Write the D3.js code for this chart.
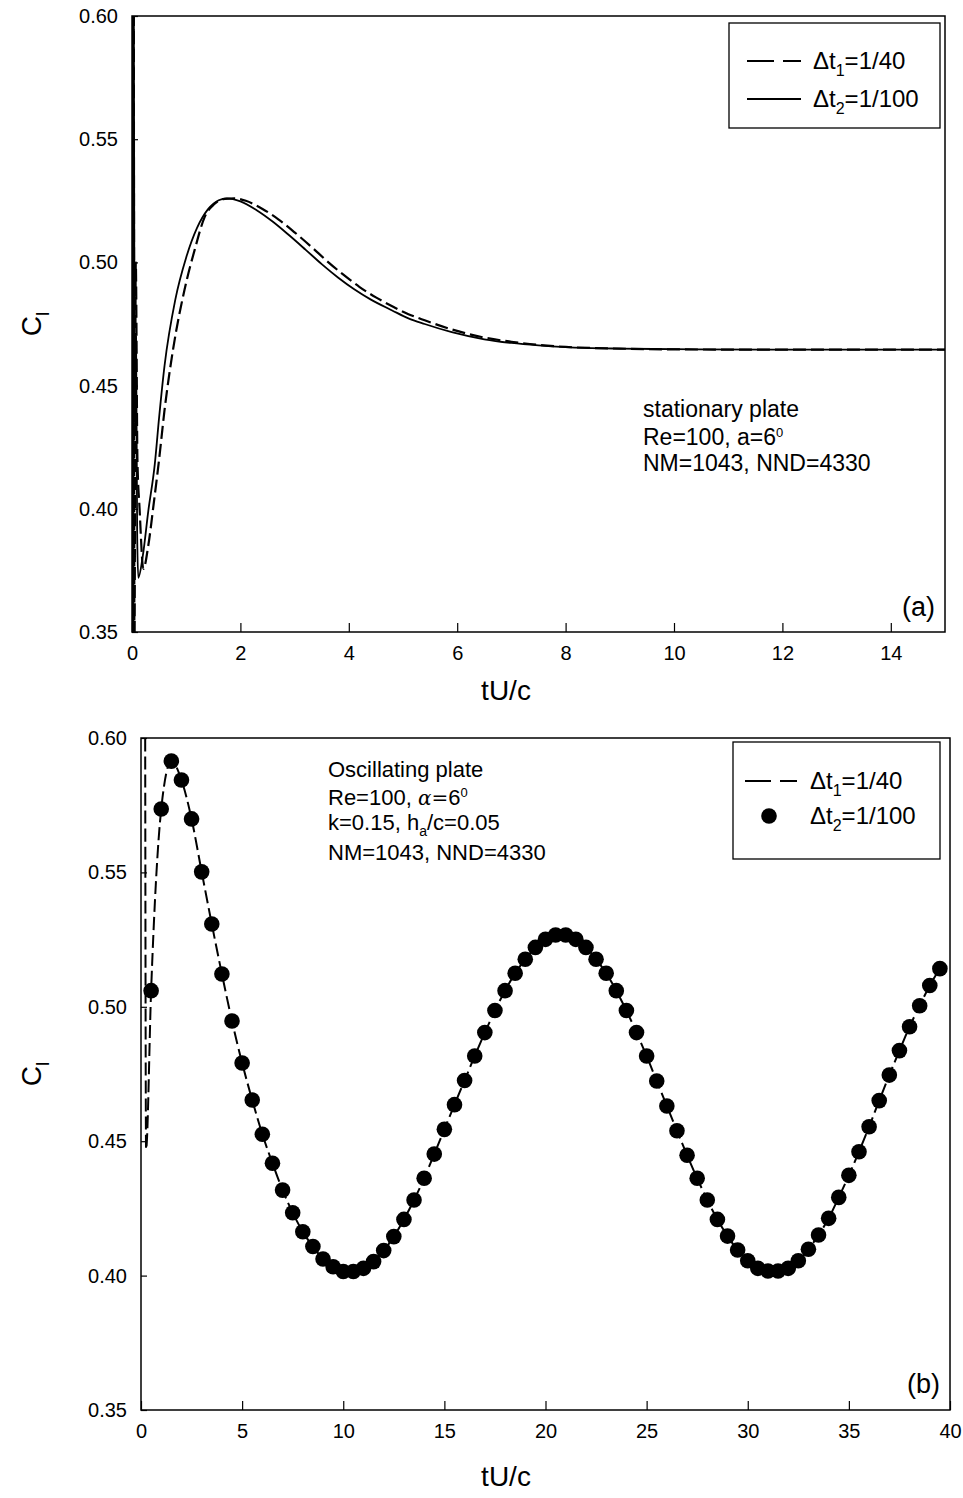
<!DOCTYPE html>
<html><head><meta charset="utf-8">
<script src="https://cdnjs.cloudflare.com/ajax/libs/d3/7.8.5/d3.min.js"></script>
<style>body{margin:0;background:#fff}svg{display:block;font-family:"Liberation Sans",Arial,sans-serif}</style>
</head><body><svg id="c" width="963" height="1498"></svg>
<script>
// ---------- Panel (a): stationary plate ----------
const aXTicks = [0, 2, 4, 6, 8, 10, 12, 14];
const aYTicks = [0.35, 0.40, 0.45, 0.50, 0.55, 0.60];
// dt2 = 1/100 (solid)
const statT2  = [0.0, 0.008, 0.016, 0.024, 0.032, 0.045, 0.06, 0.075, 0.095, 0.116, 0.2, 0.3, 0.42, 0.5, 0.6, 0.8, 1.0, 1.2, 1.4, 1.6, 1.75, 2.0, 2.3, 2.6, 2.9, 3.2, 3.5, 3.8, 4.1, 4.4, 4.8, 5.1, 5.4, 5.9, 6.5, 7.0, 7.5, 8.0, 9.0, 10.0, 12.0, 15.0];
const statCl2 = [0.65, 0.34, 0.64, 0.34, 0.62, 0.47, 0.43, 0.47, 0.39, 0.372, 0.381, 0.399, 0.418, 0.437, 0.458, 0.485, 0.502, 0.514, 0.5215, 0.5252, 0.526, 0.5248, 0.5212, 0.5165, 0.511, 0.5052, 0.4993, 0.4939, 0.4891, 0.485, 0.4805, 0.4773, 0.475, 0.4717, 0.4688, 0.4673, 0.4663, 0.4656, 0.465, 0.4648, 0.4646, 0.4646];
// dt1 = 1/40 (dashed)
const statT1  = [0.0, 0.01, 0.02, 0.03, 0.045, 0.07, 0.1, 0.14, 0.21, 0.3, 0.4, 0.5, 0.6, 0.76, 0.97, 1.16, 1.34, 1.52, 1.71, 1.89, 2.1, 2.4, 2.7, 3.0, 3.3, 3.6, 3.9, 4.2, 4.5, 4.8, 5.1, 5.4, 5.9, 6.5, 7.0, 7.5, 8.0, 9.0, 10.0, 12.0, 15.0];
const statCl1 = [0.34, 0.65, 0.34, 0.65, 0.34, 0.50, 0.42, 0.40, 0.3756, 0.385, 0.402, 0.42, 0.44, 0.465, 0.489, 0.5054, 0.5184, 0.5237, 0.5258, 0.526, 0.525, 0.5218, 0.5175, 0.5122, 0.5065, 0.5005, 0.495, 0.490, 0.4858, 0.4822, 0.479, 0.4765, 0.4728, 0.4695, 0.4678, 0.4665, 0.4657, 0.465, 0.4647, 0.4646, 0.4646];

// ---------- Panel (b): oscillating plate ----------
const bXTicks = [0, 5, 10, 15, 20, 25, 30, 35, 40];
const bYTicks = [0.35, 0.40, 0.45, 0.50, 0.55, 0.60];
// dt2 = 1/100 (dots)
const oscT2 = [0.5,1,1.5,2,2.5,3,3.5,4,4.5,5,5.5,6,6.5,7,7.5,8,8.5,9,9.5,10,10.5,11,11.5,12,12.5,13,13.5,14,14.5,15,15.5,16,16.5,17,17.5,18,18.5,19,19.5,20,20.5,21,21.5,22,22.5,23,23.5,24,24.5,25,25.5,26,26.5,27,27.5,28,28.5,29,29.5,30,30.5,31,31.5,32,32.5,33,33.5,34,34.5,35,35.5,36,36.5,37,37.5,38,38.5,39,39.5];
const oscCl2 = [0.506,0.5736,0.5914,0.5844,0.5699,0.5502,0.5308,0.5122,0.4947,0.4791,0.4653,0.4526,0.4418,0.4318,0.4234,0.4163,0.4108,0.4062,0.4033,0.4015,0.4015,0.4027,0.4052,0.4093,0.4145,0.4209,0.4281,0.4362,0.4452,0.4544,0.4636,0.4726,0.4817,0.4904,0.4986,0.506,0.5125,0.5177,0.5221,0.5251,0.5267,0.5267,0.5251,0.5221,0.5177,0.5125,0.506,0.4986,0.4904,0.4817,0.4724,0.4631,0.4539,0.4448,0.4362,0.4281,0.4209,0.4147,0.4095,0.4055,0.4027,0.4017,0.4017,0.4027,0.4055,0.4098,0.4151,0.4213,0.4291,0.4373,0.4461,0.4554,0.4651,0.4746,0.4837,0.4926,0.5004,0.5079,0.5142];
// dt1 = 1/40 (dashed): start-up transient, then follows the same curve
const oscT1start  = [0.2, 0.25];
const oscCl1start = [0.64, 0.447];

const svg = d3.select("#c");
svg.append("rect").attr("width", 963).attr("height", 1498).attr("fill", "#fff");

function panel(cfg) {
  const x = d3.scaleLinear().domain(cfg.xDom).range([cfg.left, cfg.right]);
  const y = d3.scaleLinear().domain([0.35, 0.60]).range([cfg.bottom, cfg.top]);
  const g = svg.append("g");
  const clipId = "clip" + cfg.id;
  svg.append("clipPath").attr("id", clipId).append("rect")
    .attr("x", cfg.left).attr("y", cfg.top).attr("width", cfg.right - cfg.left).attr("height", cfg.bottom - cfg.top);

  const xAxis = d3.axisBottom(x).tickValues(cfg.xTicks).tickSize(-9).tickPadding(14).tickFormat(d3.format("d"));
  const gx = g.append("g").attr("transform", `translate(0,${cfg.bottom})`).call(xAxis);
  const yAxis = d3.axisLeft(y).tickValues(cfg.yTicks).tickSize(-6).tickPadding(14).tickFormat(d3.format(".2f"));
  const gy = g.append("g").attr("transform", `translate(${cfg.left},0)`).call(yAxis);
  [gx, gy].forEach(a => {
    a.select(".domain").remove();
    a.selectAll(".tick line").attr("stroke", "#000").attr("stroke-width", 1.2);
    a.selectAll(".tick text").attr("fill", "#000").attr("font-size", 20).attr("font-family", "Liberation Sans, Arial, sans-serif");
  });
  gx.selectAll(".tick text").attr("dy", "0.71em");

  const plot = g.append("g").attr("clip-path", `url(#${clipId})`);
  cfg.draw(plot, x, y);

  g.append("rect").attr("x", cfg.left).attr("y", cfg.top).attr("width", cfg.right - cfg.left).attr("height", cfg.bottom - cfg.top)
    .attr("fill", "none").attr("stroke", "#000").attr("stroke-width", 1.5);

  g.append("text").attr("x", 506).attr("y", cfg.xTitleY).attr("text-anchor", "middle").attr("font-size", 28).text("tU/c");
  const yt = g.append("text").attr("transform", `translate(41,${(cfg.top + cfg.bottom) / 2}) rotate(-90)`)
    .attr("text-anchor", "middle").attr("font-size", 28);
  yt.append("tspan").text("C");
  yt.append("tspan").attr("dy", 8).attr("font-size", 19).text("l");

  g.append("text").attr("x", cfg.right - 10).attr("y", cfg.tagY).attr("text-anchor", "end").attr("font-size", 27).text(cfg.tag);
  return { x, y, g };
}

function legendText(g, x, y, sub, rest) {
  const t = g.append("text").attr("x", x).attr("y", y).attr("font-size", 24);
  t.append("tspan").text("\u0394t");
  t.append("tspan").attr("dy", 7).attr("font-size", 16).text(sub);
  t.append("tspan").attr("dy", -7).text(rest);
}

// Panel a
const pa = panel({
  id: "a", xDom: [0, 15], left: 132, right: 945, top: 16, bottom: 632,
  xTicks: aXTicks, yTicks: aYTicks, xTitleY: 700, tag: "(a)", tagY: 616,
  draw: (p, x, y) => {
    const line = d3.line().x(d => x(d[0])).y(d => y(d[1])).curve(d3.curveMonotoneX);
    p.append("path").datum(d3.zip(statT1, statCl1)).attr("d", line)
      .attr("fill", "none").attr("stroke", "#000").attr("stroke-width", 2.2).attr("stroke-dasharray", "13,5");
    p.append("path").datum(d3.zip(statT2, statCl2)).attr("d", line)
      .attr("fill", "none").attr("stroke", "#000").attr("stroke-width", 1.8);
  }
});
{
  const g = pa.g;
  g.append("rect").attr("x", 729).attr("y", 23).attr("width", 211).attr("height", 105).attr("fill", "#fff").attr("stroke", "#000").attr("stroke-width", 1.3);
  g.append("line").attr("x1", 747).attr("x2", 801).attr("y1", 61).attr("y2", 61).attr("stroke", "#000").attr("stroke-width", 1.8).attr("stroke-dasharray", "27,9");
  g.append("line").attr("x1", 747).attr("x2", 801).attr("y1", 99).attr("y2", 99).attr("stroke", "#000").attr("stroke-width", 1.8);
  legendText(g, 813, 69, "1", "=1/40");
  legendText(g, 813, 107, "2", "=1/100");
  const ann = g.append("text").attr("font-size", 23);
  ann.append("tspan").attr("x", 643).attr("y", 417).text("stationary plate");
  ann.append("tspan").attr("x", 643).attr("y", 445).text("Re=100, a=6");
  ann.append("tspan").attr("dy", -8).attr("font-size", 13).text("0");
  ann.append("tspan").attr("x", 643).attr("y", 471).text("NM=1043, NND=4330");
}

// Panel b
const pb = panel({
  id: "b", xDom: [0, 40], left: 141, right: 950, top: 738, bottom: 1410,
  xTicks: bXTicks, yTicks: bYTicks, xTitleY: 1486, tag: "(b)", tagY: 1393,
  draw: (p, x, y) => {
    const line = d3.line().x(d => x(d[0])).y(d => y(d[1])).curve(d3.curveMonotoneX);
    const dashed = d3.zip(oscT1start, oscCl1start).concat(d3.zip(oscT2, oscCl2));
    p.append("path").datum(dashed).attr("d", line)
      .attr("fill", "none").attr("stroke", "#000").attr("stroke-width", 2).attr("stroke-dasharray", "13,5");
    p.selectAll("circle").data(d3.zip(oscT2, oscCl2)).join("circle")
      .attr("cx", d => x(d[0])).attr("cy", d => y(d[1])).attr("r", 7.8).attr("fill", "#000");
  }
});
{
  const g = pb.g;
  g.append("rect").attr("x", 733).attr("y", 742).attr("width", 207).attr("height", 117).attr("fill", "#fff").attr("stroke", "#000").attr("stroke-width", 1.3);
  g.append("line").attr("x1", 745).attr("x2", 797).attr("y1", 781).attr("y2", 781).attr("stroke", "#000").attr("stroke-width", 1.8).attr("stroke-dasharray", "26,9");
  g.append("circle").attr("cx", 769).attr("cy", 816).attr("r", 7.8).attr("fill", "#000");
  legendText(g, 810, 789, "1", "=1/40");
  legendText(g, 810, 824, "2", "=1/100");
  const ann = g.append("text").attr("font-size", 22);
  ann.append("tspan").attr("x", 328).attr("y", 777).text("Oscillating plate");
  ann.append("tspan").attr("x", 328).attr("y", 805).text("Re=100, ");
  ann.append("tspan").attr("font-family", "DejaVu Serif, serif").attr("font-style", "italic").attr("font-size", 20).text("\u03b1=");
  ann.append("tspan").text("6");
  ann.append("tspan").attr("dy", -8).attr("font-size", 13).text("0");
  ann.append("tspan").attr("x", 328).attr("y", 830).text("k=0.15, h");
  ann.append("tspan").attr("dy", 6).attr("font-size", 14).text("a");
  ann.append("tspan").attr("dy", -6).text("/c=0.05");
  ann.append("tspan").attr("x", 328).attr("y", 860).text("NM=1043, NND=4330");
}
</script></body></html>
